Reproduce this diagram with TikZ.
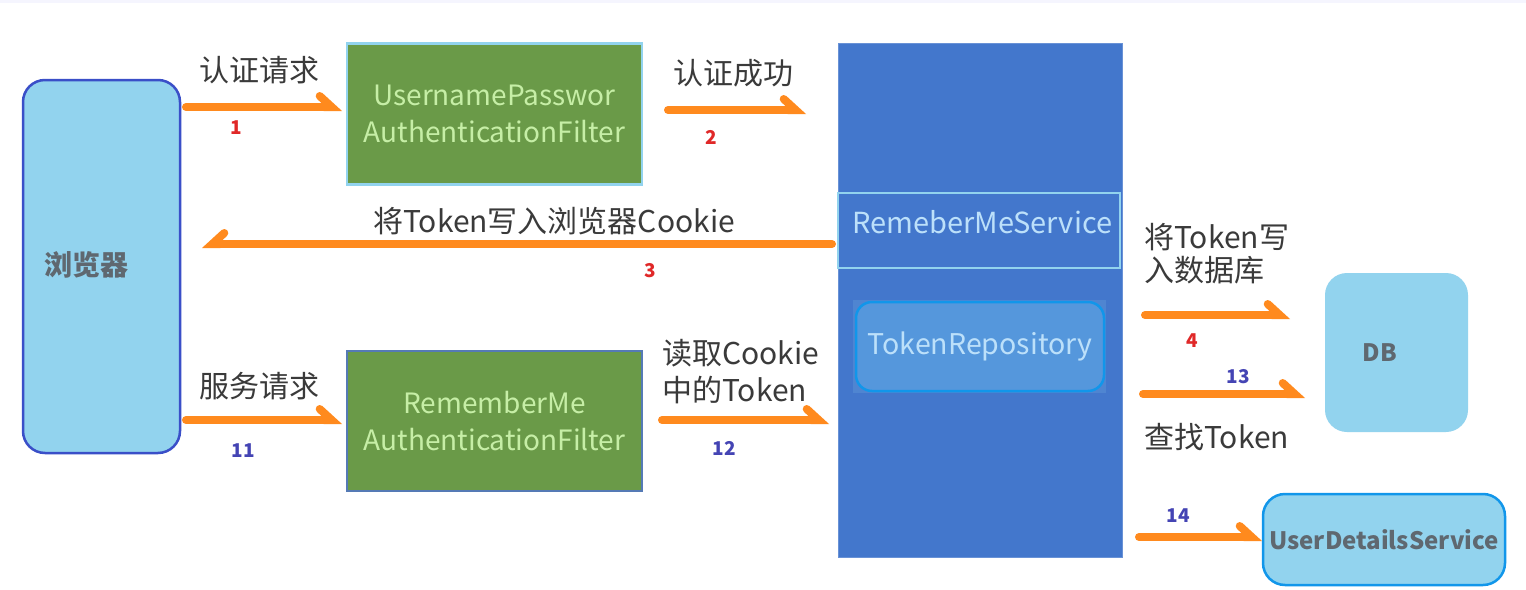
\documentclass[tikz,border=0pt]{standalone}
\usepackage{fontspec}
\setmainfont{Noto Sans CJK SC}
\usetikzlibrary{arrows.meta}
\definecolor{orng}{HTML}{FF8A1E}
\definecolor{lblue}{HTML}{92D3EE}
\definecolor{dblue}{HTML}{3A4FC8}
\definecolor{grn}{HTML}{6A9A48}
\definecolor{grntxt}{HTML}{C6EEA6}
\definecolor{bigblue}{HTML}{4377CC}
\definecolor{bluetxt}{HTML}{BCE0FA}
\definecolor{labgray}{HTML}{3A3A3A}
\definecolor{boxgray}{HTML}{5F6870}
\definecolor{numred}{HTML}{E02828}
\definecolor{numblue}{HTML}{4444B4}
\definecolor{brightblue}{HTML}{1196EA}
\definecolor{trfill}{HTML}{5597DC}
\begin{document}
\begin{tikzpicture}[x=1pt,y=-1pt,
  flow/.style={draw=orng,line width=8pt,line cap=round,-{Straight Barb[harpoon,length=12pt,width=22pt,line cap=round]}},
  flowl/.style={draw=orng,line width=8pt,line cap=round,-{Straight Barb[harpoon,swap,length=12pt,width=22pt,line cap=round]}},
  lab/.style={text=labgray,font=\fontsize{30}{33}\selectfont,inner sep=0pt},
  numr/.style={text=numred,font=\fontsize{19}{22}\selectfont\bfseries,inner sep=0pt},
  numb/.style={text=numblue,font=\fontsize{19}{22}\selectfont\bfseries,inner sep=0pt},
  greenbox/.style={fill=grn,text=grntxt,minimum width=295pt,minimum height=141pt,inner sep=0pt,align=center,font=\fontsize{28}{37}\selectfont},
  lightbox/.style={fill=lblue,text=boxgray,inner sep=0pt,font=\fontsize{24}{28}\selectfont\bfseries}
]
\useasboundingbox (0,0) rectangle (1526,589);
\fill[white] (0,0) rectangle (1526,589);
\fill[color=black!6!blue!4!white] (0,0) rectangle (1526,3);

% browser
\node[lightbox,draw=dblue,line width=2.5pt,rounded corners=22pt,minimum width=157pt,minimum height=373pt] (br) at (101.5,266.5) {};
\node[lightbox,anchor=west,font=\fontsize{28}{30}\selectfont\bfseries] (brt) at (44,265) {浏览器};

% green filters
\node[greenbox,draw=lblue,line width=2.5pt] (upf) at (494.5,114) {UsernamePasswor\\AuthenticationFilter};
\node[greenbox,draw=bigblue!70!gray,line width=1.5pt,minimum height=140pt] (rmf) at (494.5,421) {RememberMe\\AuthenticationFilter};

% big blue service block
\node[fill=bigblue,draw=bigblue!80!white,line width=1pt,minimum width=284pt,minimum height=514pt,inner sep=0pt] (big) at (980,300) {};
\node[fill=bigblue,draw=lblue,line width=2.5pt,minimum width=282pt,minimum height=75pt,inner sep=0pt] (rms) at (979,230.5) {};
\node[text=bluetxt,font=\fontsize{29}{32}\selectfont,inner sep=0pt,anchor=west] (rmst) at (852,222) {RemeberMeService};
\node[fill=bigblue!85!lblue,minimum width=253pt,minimum height=93pt,inner sep=0pt] (tro) at (979.5,346.5) {};
\node[fill=trfill,draw=brightblue,line width=2.5pt,rounded corners=16pt,minimum width=248pt,minimum height=89pt,inner sep=0pt,text=bluetxt,font=\fontsize{28.5}{32}\selectfont] (tr) at (980,346.5) {TokenRepository};

% DB and UserDetailsService
\node[lightbox,rounded corners=22pt,minimum width=143pt,minimum height=159pt] (db) at (1396.5,352.5) {};
\node[lightbox] (dbt) at (1380,353) {DB};
\node[lightbox,draw=brightblue,line width=2.5pt,rounded corners=22pt,minimum width=242pt,minimum height=91pt] (uds) at (1384,539.5) {UserDetailsService};

% arrow endpoints
\coordinate (a1s) at (186,107); \coordinate (a1e) at (342,107);
\coordinate (a2s) at (668,110); \coordinate (a2e) at (806,110);
\coordinate (a3s) at (832,244); \coordinate (a3e) at (202,244);
\coordinate (a4s) at (1145,315); \coordinate (a4e) at (1290,315);
\coordinate (a13s) at (1143,394); \coordinate (a13e) at (1305,394);
\coordinate (a14s) at (1139,537); \coordinate (a14e) at (1262,537);
\coordinate (a11s) at (186,420); \coordinate (a11e) at (342,420);
\coordinate (a12s) at (662,420); \coordinate (a12e) at (829,420);

\draw[flow] (a1s) -- (a1e);
\draw[flow] (a2s) -- (a2e);
\draw[flowl] (a3s) -- (a3e);
\draw[flow] (a4s) -- (a4e);
\draw[flow] (a13s) -- (a13e);
\draw[flow] (a14s) -- (a14e);
\draw[flow] (a11s) -- (a11e);
\draw[flow] (a12s) -- (a12e);

% labels
\node[lab] (l1) at (259,70) {认证请求};
\node[numr] (n1) at (236,128) {1};
\node[lab] (l2) at (733,73) {认证成功};
\node[numr] (n2) at (711,137) {2};
\node[lab] (l3) at (554,221) {将Token写入浏览器Cookie};
\node[numr] (n3) at (650,271) {3};
\node[lab,anchor=west,align=left,font=\fontsize{30}{33}\selectfont] (l4) at (1144,254) {将Token写\\入数据库};
\node[numr] (n4) at (1192,341) {4};
\node[numb] (n13) at (1238,377) {13};
\node[lab,anchor=west] (l13) at (1144,437) {查找Token};
\node[numb] (n14) at (1178,516) {14};
\node[lab] (l11) at (259,386) {服务请求};
\node[numb] (n11) at (243,451) {11};
\node[lab,anchor=west,align=left,font=\fontsize{30}{37}\selectfont] (l12) at (662,372) {读取Cookie\\中的Token};
\node[numb] (n12) at (724,448) {12};
\end{tikzpicture}
\end{document}
